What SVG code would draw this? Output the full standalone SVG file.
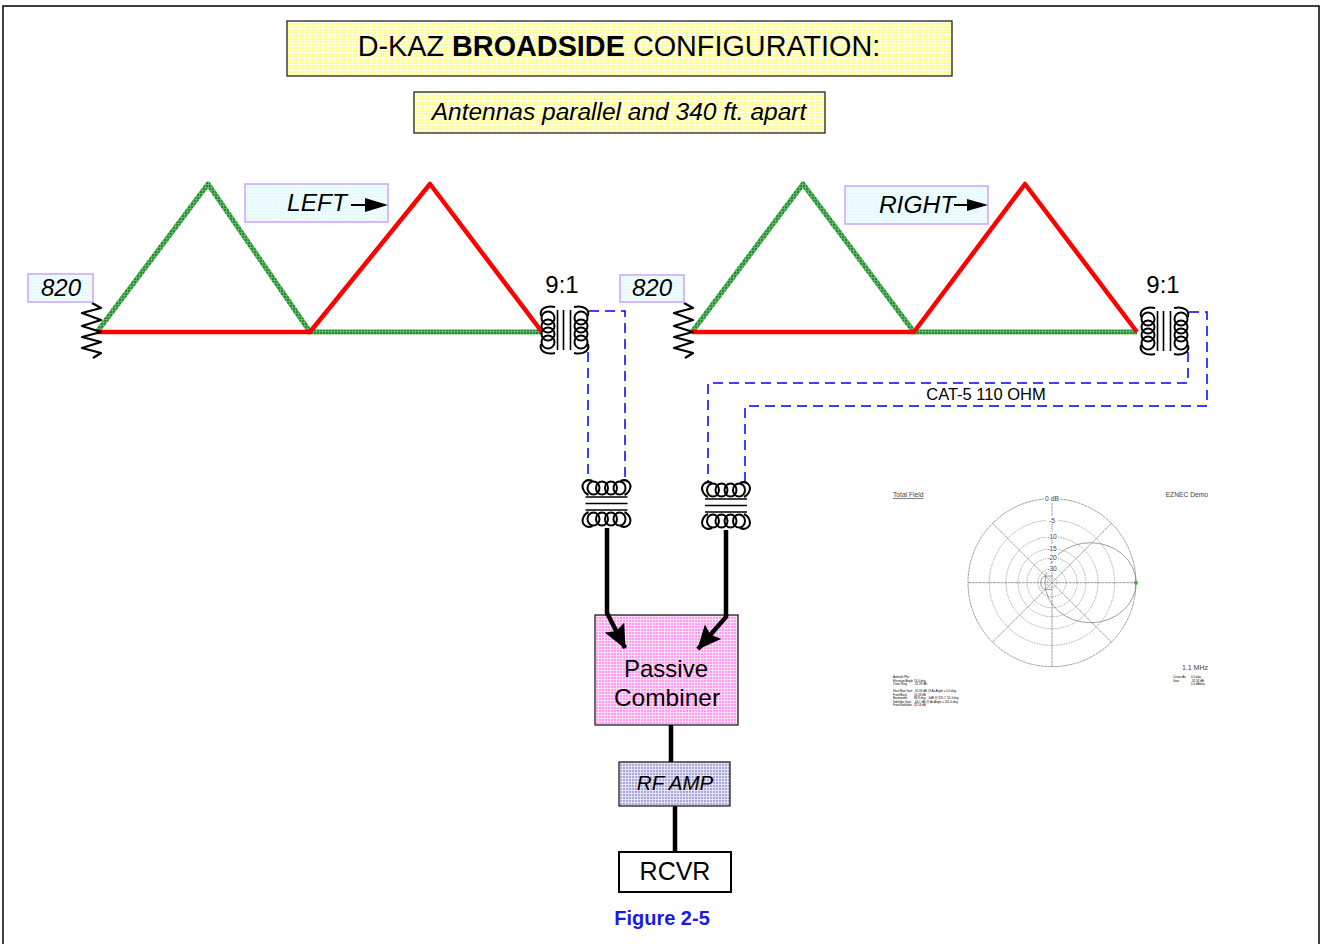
<svg xmlns="http://www.w3.org/2000/svg" width="1320" height="944" viewBox="0 0 1320 944">
<style>
text{font-family:"Liberation Sans",Arial,sans-serif;fill:#000}
.box{stroke:#222;stroke-width:1.3}
.tag{fill:url(#pc);stroke:#c9a6ff;stroke-width:1.5}
.i{font-style:italic}
.g{fill:none;stroke:url(#pg);stroke-width:5;stroke-linejoin:round}
.r{fill:none;stroke:#f00;stroke-width:4.5;stroke-linejoin:round}
.d{fill:none;stroke:#00f;stroke-width:1.5;stroke-dasharray:10 6}
.coil{fill:none;stroke:#000;stroke-width:2}
.w{fill:none;stroke:#000;stroke-width:2.3;stroke-linejoin:round}
.thick{fill:none;stroke:#000;stroke-width:4.5}
.pr{fill:none;stroke:#8a8a8a;stroke-width:.7;stroke-dasharray:1.5 1}
.pa{fill:none;stroke:#777;stroke-width:.7}
.sm{font-size:6.7px;fill:#444}
.xs{font-size:2.9px;fill:#555}
</style>
<defs>
<pattern id="py" width="3" height="3" patternUnits="userSpaceOnUse"><rect width="3" height="3" fill="#ffff8c"/><path d="M0 1.5H3M1.500 0V3" stroke="#fffff0" stroke-width=".9"/></pattern>
<pattern id="pm" width="3" height="3" patternUnits="userSpaceOnUse"><rect width="3" height="3" fill="#ff9cf0"/><path d="M0 1.5H3M1.500 0V3" stroke="#ffe4fb" stroke-width=".9"/></pattern>
<pattern id="pb" width="3" height="3" patternUnits="userSpaceOnUse"><rect width="3" height="3" fill="#a9a9d8"/><path d="M0 1.5H3M1.500 0V3" stroke="#e8e8f6" stroke-width=".9"/></pattern>
<pattern id="pc" width="3" height="3" patternUnits="userSpaceOnUse"><rect width="3" height="3" fill="#f0fdff"/><path d="M0 1.5H3M1.500 0V3" stroke="#e0f6f8" stroke-width=".6"/></pattern>
<pattern id="pg" width="3" height="3" patternUnits="userSpaceOnUse"><rect width="3" height="3" fill="#1f8f2c"/><path d="M0 1.5H3M1.500 0V3" stroke="#6dbb74" stroke-width=".8"/></pattern>
<g id="vc">
<ellipse class="coil" cx="8" cy="-12" rx="6.500" ry="6.500"/><ellipse class="coil" cx="8" cy="-4" rx="6.500" ry="6.500"/><ellipse class="coil" cx="8" cy="4" rx="6.500" ry="6.500"/><ellipse class="coil" cx="8" cy="12" rx="6.500" ry="6.500"/>
<path class="coil" d="M15 -23C6 -25 -1 -21 1 -14M15 23C6 25 -1 21 1 14"/>
</g>
<g id="xf">
<use href="#vc"/>
<use href="#vc" transform="translate(49 0) scale(-1 1)"/>
<path d="M17.500 -20V20M23.500 -20V20M30.500 -20V20" stroke="#000" stroke-width="1.6" fill="none"/>
</g>
<g id="hc">
<ellipse class="coil" cx="-13" cy="1" rx="6" ry="6.500"/><ellipse class="coil" cx="-4.500" cy="1" rx="6" ry="6.500"/><ellipse class="coil" cx="4.500" cy="1" rx="6" ry="6.500"/><ellipse class="coil" cx="13" cy="1" rx="6" ry="6.500"/>
<path class="coil" d="M-14 -6C-21 -9 -26 -3 -23 3C-22 6 -20 7 -18 8M14 -6C21 -9 26 -3 23 3C22 6 20 7 18 8"/>
</g>
<g id="xh">
<use href="#hc"/>
<use href="#hc" transform="translate(0 33) scale(1 -1)"/>
<path d="M-21 10H21M-21 16.500H21M-21 23H21" stroke="#000" stroke-width="1.500" fill="none"/>
</g>
<path id="res" class="w" d="M0 -1L9 4L-10 9L9 16L-10 22L9 28L-10 33L9 38L-10 44L9 49L1 54"/>
<marker id="big" viewBox="0 0 24 22" markerWidth="24" markerHeight="22" refX="23" refY="11" orient="auto" markerUnits="userSpaceOnUse"><path d="M0 0L24 11L0 22L4 11Z" fill="#000"/></marker>
</defs>

<rect x="3" y="6" width="1316" height="950" fill="#fff" stroke="#000" stroke-width="1.500"/>

<g id="title"><rect class="box" x="287" y="21" width="665" height="55" fill="url(#py)"/>
<text x="619" y="56" font-size="28.800" text-anchor="middle">D-KAZ <tspan font-weight="bold">BROADSIDE</tspan> CONFIGURATION:</text></g>
<g id="subtitle"><rect class="box" x="414" y="92" width="411" height="41" fill="url(#py)"/>
<text class="i" x="619" y="120" font-size="24.500" text-anchor="middle">Antennas parallel and 340 ft. apart</text></g>

<g id="combiner"><rect class="box" x="595" y="615" width="143" height="110" fill="url(#pm)"/>
<text x="666" y="677" font-size="24" text-anchor="middle">Passive</text><text x="667" y="706" font-size="24.500" text-anchor="middle">Combiner</text></g>

<g id="connectors">
<g id="left-antenna">
<path class="g" d="M97 332L208 184L310 332H542"/>
<path class="r" d="M97 332H310L430 184L542 332"/>
</g>
<g id="right-antenna">
<path class="g" d="M692 332L803 184L914 332H1137"/>
<path class="r" d="M692 332H914L1025 184L1137 332"/>
</g>
<path class="d" d="M588 352V480M589 311H625V480"/>
<path class="d" d="M1188 352V383H708V482M1189 312H1207V406H745V482"/>
<path class="thick" d="M607 528V613L625 648" marker-end="url(#big)"/>
<path class="thick" d="M726 530V617L698 649" marker-end="url(#big)"/>
<path class="thick" d="M671 725V762"/>
<path class="thick" d="M675 806V852"/>
</g>

<g id="res-left"><use href="#res" x="92" y="304"/></g>
<g id="res-right"><use href="#res" x="684" y="304"/></g>
<g id="xf-left"><use href="#xf" x="540" y="330"/></g>
<g id="xf-right"><use href="#xf" x="1140" y="331"/></g>
<g id="xh-left"><use href="#xh" x="606.500" y="487"/></g>
<g id="xh-right"><use href="#xh" x="726" y="489"/></g>

<g id="tag-820-left"><rect class="tag" x="28" y="274" width="65" height="28"/><text class="i" x="61" y="296" font-size="24" text-anchor="middle">820</text></g>
<g id="tag-820-right"><rect class="tag" x="620" y="275" width="64" height="27"/><text class="i" x="652" y="296" font-size="24" text-anchor="middle">820</text></g>
<g id="tag-left"><rect class="tag" x="245" y="184" width="143" height="38"/><text class="i" x="317" y="211" font-size="24.500" text-anchor="middle">LEFT</text><path d="M351 205H366" stroke="#000" stroke-width="2"/><path d="M365 198L388 205L365 212Z"/></g>
<g id="tag-right"><rect class="tag" x="845" y="186" width="143" height="38"/><text class="i" x="917" y="213" font-size="24.500" text-anchor="middle">RIGHT</text><path d="M954 205H969" stroke="#000" stroke-width="2"/><path d="M967 199L988 205L967 211Z"/></g>

<text x="562" y="293" font-size="24" text-anchor="middle">9:1</text>
<text x="1163" y="293" font-size="24" text-anchor="middle">9:1</text>
<text x="986" y="400" font-size="16.500" text-anchor="middle">CAT-5 110 OHM</text>

<g id="rfamp"><rect class="box" x="619" y="762" width="111" height="44" fill="url(#pb)"/><text class="i" x="675" y="790" font-size="20.500" text-anchor="middle">RF AMP</text></g>
<g id="rcvr"><rect x="619" y="852" width="112" height="40" fill="#fff" stroke="#000" stroke-width="2"/><text x="675" y="880" font-size="25" text-anchor="middle">RCVR</text></g>
<text x="662" y="925" font-size="20" font-weight="bold" text-anchor="middle" style="fill:#1a1ae6">Figure 2-5</text>

<g id="polar">
<circle class="pa" cx="1052" cy="582.700" r="84" stroke-dasharray="3 .6"/>
<g class="pr"><circle cx="1052" cy="582.700" r="62.700"/><circle cx="1052" cy="582.700" r="46"/><circle cx="1052" cy="582.700" r="34"/><circle cx="1052" cy="582.700" r="25"/><circle cx="1052" cy="582.700" r="14"/><circle cx="1052" cy="582.700" r="5"/></g>
<path class="pa" stroke-dasharray="3 .6" d="M968 582.700H1136M1052 498.700V666.700M992.600 523.300L1111.400 642.100M992.600 642.100L1111.400 523.300"/>
<ellipse class="pa" cx="1090.500" cy="582.700" rx="45.500" ry="40"/>
<path class="pa" d="M1052 576H1046C1039 576 1039 589.500 1046 589.500H1052"/>
<circle cx="1136" cy="582.700" r="2" fill="#3cb043"/>
<g text-anchor="middle"><rect x="1044" y="494" width="16" height="9" fill="#fff"/>
<text class="sm" x="1052" y="501">0 dB</text>
<rect x="1046" y="516" width="12" height="8" fill="#fff"/><text class="sm" x="1052" y="523">-5</text>
<rect x="1046" y="532" width="12" height="8" fill="#fff"/><text class="sm" x="1052" y="539">-10</text>
<rect x="1046" y="544" width="12" height="8" fill="#fff"/><text class="sm" x="1052" y="551">-15</text>
<rect x="1046" y="553" width="12" height="8" fill="#fff"/><text class="sm" x="1052" y="560">-20</text>
<rect x="1046" y="564" width="12" height="8" fill="#fff"/><text class="sm" x="1052" y="571">-30</text></g>
<text class="sm" x="893" y="497" text-decoration="underline">Total Field</text>
<text class="sm" x="1208" y="497" text-anchor="end">EZNEC Demo</text>
<text class="sm" x="1208" y="670" text-anchor="end" style="font-size:7px">1.1 MHz</text>
<g class="xs">
<text x="893" y="678">Azimuth Plot</text><text x="893" y="681.500">Elevation Angle</text><text x="914" y="681.500">13.0 deg.</text><text x="893" y="685">Outer Ring</text><text x="914" y="685">-31.59 dBi</text>
<text x="893" y="692">Slice Max Gain</text><text x="914" y="692">-31.59 dBi @ Az Angle = 0.0 deg.</text><text x="893" y="695.500">Front/Back</text><text x="914" y="695.500">16.33 dB</text><text x="893" y="699">Beamwidth</text><text x="914" y="699">88.8 deg.; -3dB @ 325.7, 55.3 deg.</text><text x="893" y="702.500">Sidelobe Gain</text><text x="914" y="702.500">-44.1 dBi @ Az Angle = 101.0 deg.</text><text x="893" y="706">Front/Sidelobe</text><text x="914" y="706">32.54 dB</text>
<text x="1173" y="678">Cursor Az</text><text x="1191" y="678">0.0 deg.</text><text x="1173" y="681.500">Gain</text><text x="1191" y="681.500">-31.59 dBi</text><text x="1191" y="685">0.0 dBmax</text>
</g>
</g>
</svg>
